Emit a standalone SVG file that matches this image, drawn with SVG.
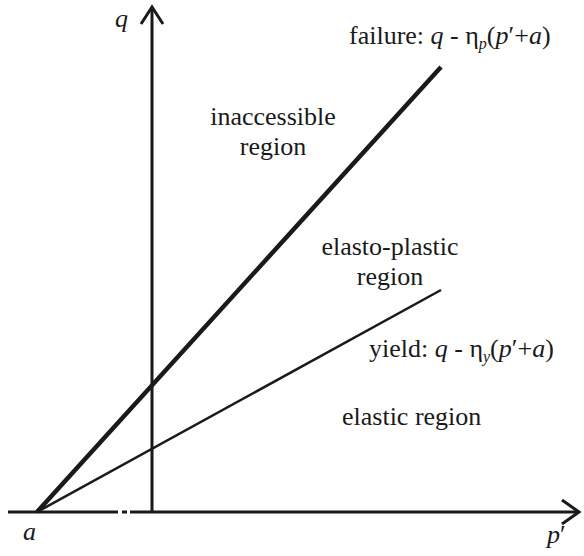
<svg xmlns="http://www.w3.org/2000/svg" width="584" height="556" viewBox="0 0 584 556">
<style>
text{font-family:"Liberation Serif","Times New Roman",serif;font-size:26px;fill:#1a1a1a}
.it{font-style:italic}
.ax{stroke:#1a1a1a;stroke-width:3;fill:none}
.sub{font-size:16px;font-style:italic}
</style>
<rect width="584" height="556" fill="#fff"/>
<g id="axes">
<path class="ax" d="M8,512 H118 M122,512 H127 M130,512 H578"/>
<path class="ax" d="M562,500 L579,512 L562,524"/>
<path class="ax" d="M152,512 V7"/>
<path class="ax" d="M141,24 L152,7 L163,24"/>
</g>
<g id="connectors">
<line id="failure-line" x1="37" y1="512" x2="441" y2="67" stroke="#1a1a1a" stroke-width="4.5"/>
<line id="yield-line" x1="37" y1="512" x2="441" y2="290" stroke="#1a1a1a" stroke-width="2.5"/>
</g>
<g id="labels">
<text class="it" x="115" y="27">q</text>
<text class="it" x="23" y="540">a</text>
<text x="547" y="543"><tspan class="it">p</tspan>′</text>
<text id="failure-label" x="349" y="44">failure: <tspan class="it">q</tspan> - η<tspan class="sub" dy="5">p</tspan><tspan dy="-5">(</tspan><tspan class="it">p</tspan>′+<tspan class="it">a</tspan>)</text>
<text id="yield-label" x="369" y="357">yield: <tspan class="it">q</tspan> - η<tspan class="sub" dy="5">y</tspan><tspan dy="-5">(</tspan><tspan class="it">p</tspan>′+<tspan class="it">a</tspan>)</text>
<text text-anchor="middle" x="273" y="125">inaccessible</text>
<text text-anchor="middle" x="273" y="155">region</text>
<text text-anchor="middle" x="390" y="255">elasto-plastic</text>
<text text-anchor="middle" x="390" y="285">region</text>
<text x="342" y="425">elastic region</text>
</g>
</svg>
